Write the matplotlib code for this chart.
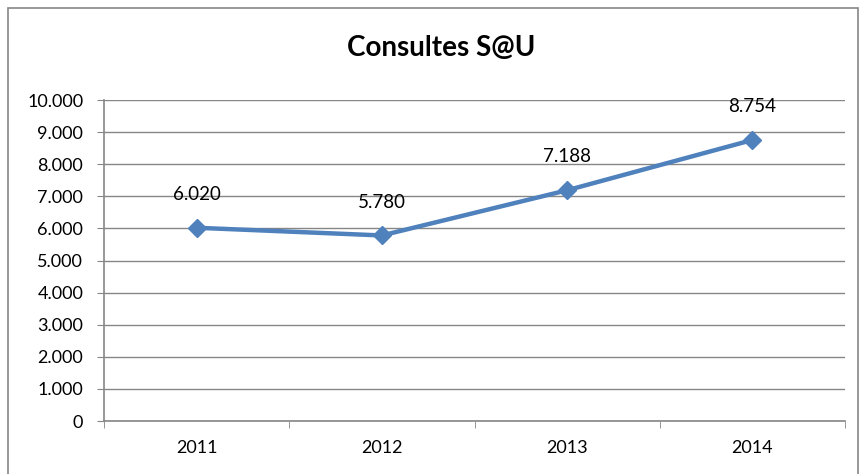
import matplotlib.pyplot as plt
from matplotlib.ticker import FuncFormatter, FixedLocator
from matplotlib.patches import Rectangle

# data
years = ["2011", "2012", "2013", "2014"]
consultes = [6020, 5780, 7188, 8754]

def fmt(v, pos=None):
    # thousands separator with a dot, as in the original
    return "{:,.0f}".format(v).replace(",", ".")

plt.rcParams['font.family'] = ['Lato', 'DejaVu Sans']

fig = plt.figure(figsize=(8.63, 4.74), dpi=100)
W, H = 863, 474

# outer chart frame
fig.patches.append(Rectangle((7.5 / W, -0.05), (858 - 7.5) / W, (474 - 7.5) / H + 0.05,
                             transform=fig.transFigure, fill=False,
                             edgecolor="#868686", linewidth=1.2))

ax = fig.add_axes([104 / W, (H - 421) / H, (845 - 104) / W, (421 - 100) / H])

x = range(len(years))
ax.plot(x, consultes, color="#4F81BD", linewidth=3.2, marker="D", markersize=9,
        markerfacecolor="#4F81BD", markeredgecolor="#4F81BD", zorder=3)

for xi, v in zip(x, consultes):
    ax.annotate(fmt(v), (xi, v), xytext=(0, 24), textcoords="offset points",
                ha="center", va="center", fontsize=13.5, color="black")

ax.set_xlim(-0.5, len(years) - 0.5)
ax.set_ylim(0, 10000)
ax.set_yticks(range(0, 10001, 1000))
ax.yaxis.set_major_formatter(FuncFormatter(fmt))
ax.grid(axis="y", color="#868686", linewidth=1)
ax.set_axisbelow(True)

ax.set_xticks(list(x))
ax.set_xticklabels(years)
ax.xaxis.set_minor_locator(FixedLocator([i - 0.5 for i in range(len(years) + 1)]))
ax.tick_params(axis="x", which="major", length=0, pad=14, labelsize=13)
ax.tick_params(axis="x", which="minor", length=5, color="#868686", direction="out")
ax.tick_params(axis="y", length=5, color="#868686", labelsize=13, pad=10)

for s in ["top", "right"]:
    ax.spines[s].set_visible(False)
for s in ["left", "bottom"]:
    ax.spines[s].set_color("#868686")
    ax.spines[s].set_linewidth(1.2)

fig.text(441 / W, (H - 48) / H, "Consultes S@U", ha="center", va="center",
         fontsize=20, fontweight="bold")

fig.savefig("out.png", dpi=100)
